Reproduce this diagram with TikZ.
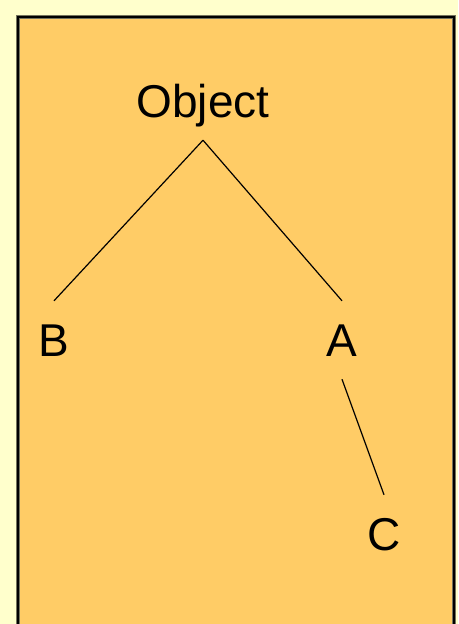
\documentclass[tikz,border=0pt]{standalone}
\usepackage{fontspec}
\setmainfont{Liberation Sans}
\definecolor{bgyellow}{HTML}{FFFFCC}
\definecolor{panel}{HTML}{FFCC66}
\begin{document}
\begin{tikzpicture}[x=1pt,y=-1pt,
  lbl/.style={font=\fontsize{46}{50}\selectfont, inner sep=0pt, text height=33pt, text depth=0pt, minimum height=78pt, anchor=center},
  edge/.style={draw=black, line width=1.2pt}]
  \fill[bgyellow] (0,0) rectangle (458,624);
  \useasboundingbox (0,0) rectangle (458,624);
  \draw[draw=black!55!bgyellow, line width=4pt, fill=panel] (18,17) rectangle (454,640);
  \draw[draw=black, line width=2.5pt] (18,17) rectangle (454,640);
  \node[lbl] (obj) at (203,101) {Object};
  \node[lbl] (B) at (54,340) {B};
  \node[lbl] (A) at (342,340) {A};
  \node[lbl] (C) at (384,534) {C};
  \draw[edge] (obj.south) -- (B.north);
  \draw[edge] (obj.south) -- (A.north);
  \draw[edge] (A.south) -- (C.north);
\end{tikzpicture}
\end{document}
